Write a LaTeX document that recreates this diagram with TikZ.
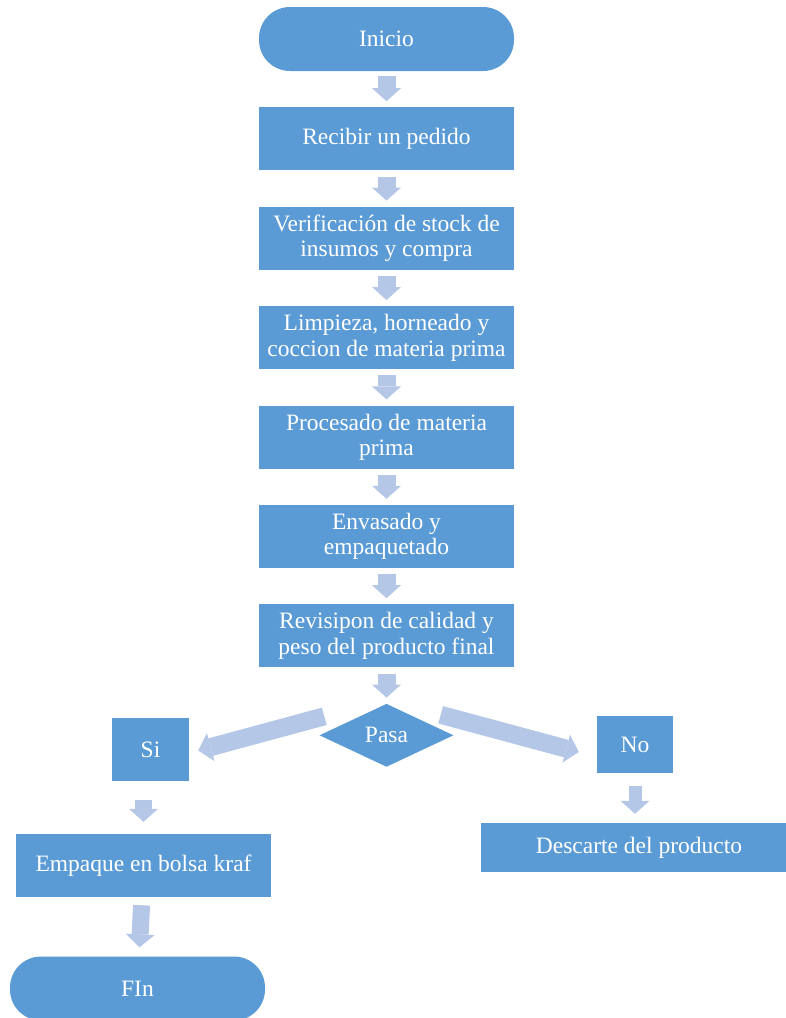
\documentclass[tikz,border=0pt]{standalone}
\usepackage{fontspec}
\setmainfont{Liberation Serif}
\usetikzlibrary{positioning,shapes.geometric,arrows.meta}
\definecolor{boxblue}{RGB}{91,155,213}
\definecolor{arrowblue}{RGB}{180,199,231}

\begin{document}
\begin{tikzpicture}[x=1pt, y=-1pt, node distance=36pt,
    every node/.style={text=white, font=\fontsize{23.5}{25.5}\selectfont, align=center},
    box/.style={fill=boxblue, minimum width=255pt, minimum height=63pt, inner sep=0pt},
    term/.style={box, rounded corners=31pt, minimum height=64pt},
    decision/.style={diamond, fill=boxblue, aspect=2, inner sep=0pt,
        minimum width=134pt, minimum height=63pt},
    flow/.style={line width=18pt, arrowblue,
        -{Triangle[length=13pt, width=29pt, line width=0pt]}}]
    \useasboundingbox (0,0) rectangle (786,1018);

    % main column
    \node[term] (inicio) at (386.5,39) {Inicio};
    \node[box, below=of inicio] (pedido) {Recibir un pedido};
    \node[box, below=of pedido] (stock) {Verificación de stock de\\insumos y compra};
    \node[box, below=of stock] (limpieza) {Limpieza, horneado y\\coccion de materia prima};
    \node[box, below=of limpieza] (procesado) {Procesado de materia\\prima};
    \node[box, below=of procesado] (envasado) {Envasado y\\empaquetado};
    \node[box, below=of envasado] (revision) {Revisipon de calidad y\\peso del producto final};
    \node[decision, below=of revision] (pasa) {Pasa};

    % branches
    \node[box, minimum width=77pt] (si) at (150.5,749.5) {Si};
    \node[box, minimum width=76pt, minimum height=57pt] (no) at (635,744.5) {No};
    \node[box] (empaque) at (143.5,865.5) {Empaque en bolsa kraf};
    \node[term] (fin) at (137.5,988.5) {FIn};
    \node[box, minimum width=316pt, minimum height=49pt] (descarte) at (639,847.5) {Descarte del producto};

    % arrows
    \draw[flow, shorten <=5pt, shorten >=6pt] (inicio) -- (pedido);
    \draw[flow, shorten <=6pt, shorten >=6pt] (pedido) -- (stock);
    \draw[flow, shorten <=6pt, shorten >=6pt] (stock) -- (limpieza);
    \draw[flow, shorten <=6pt, shorten >=6pt] (limpieza) -- (procesado);
    \draw[flow, shorten <=6pt, shorten >=6pt] (procesado) -- (envasado);
    \draw[flow, shorten <=6pt, shorten >=6pt] (envasado) -- (revision);
    \draw[flow, shorten <=6pt, shorten >=6pt] (revision) -- (pasa);
    \draw[flow] ([xshift=5pt, yshift=19pt]pasa.west) -- ([xshift=9pt, yshift=-1pt]si.east);
    \draw[flow] ([xshift=-13pt, yshift=20.5pt]pasa.east) -- ([xshift=-18pt, yshift=-7.5pt]no.west);
    \draw[flow, line width=17pt, shorten <=19pt, shorten >=12pt] (si.south -| empaque.north) -- (empaque.north);
    \draw[flow, line width=17pt, shorten <=8pt, shorten >=9pt] (empaque) -- (fin);
    \draw[flow, line width=13pt, shorten <=13pt, shorten >=9pt] (no) -- (no |- descarte.north);
\end{tikzpicture}
\end{document}
